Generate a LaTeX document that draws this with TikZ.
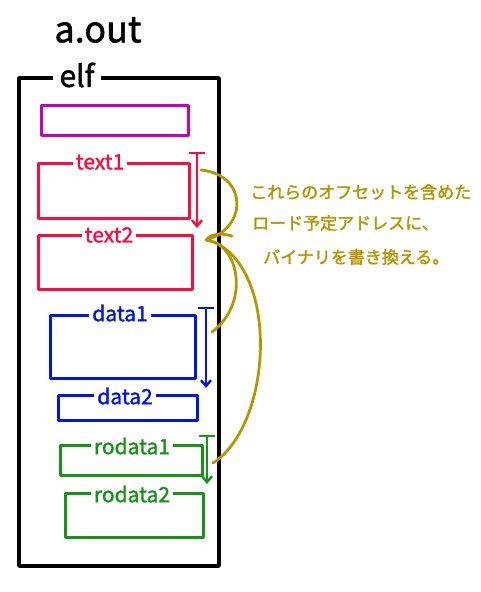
\documentclass[tikz,border=0pt]{standalone}
\usepackage{fontspec}
\setmainfont[FakeBold=1.5]{Noto Sans CJK JP}
\newfontfamily\jpfont[FakeBold=2]{Noto Sans CJK JP}
\usetikzlibrary{arrows.meta}
\definecolor{cmag}{RGB}{200,0,190}
\definecolor{cred}{RGB}{255,10,60}
\definecolor{cblue}{RGB}{0,20,230}
\definecolor{cgreen}{RGB}{20,150,20}
\definecolor{cgold}{RGB}{185,150,0}
\tikzset{
  seg/.style={draw=#1, line width=3pt, inner sep=0pt, outer sep=0pt, anchor=north west},
  lab/.style={fill=white, text=#1, inner sep=1pt, inner xsep=3pt, font=\fontsize{21}{21}\selectfont},
  brk/.style={draw=#1, line width=2.4pt, {Bar[width=16pt]}-{Straight Barb[length=6pt,width=10pt]}},
  link/.style={draw=cgold, line width=2.8pt},
  jp/.style={anchor=west, text=cgold, inner sep=0pt, font=\jpfont\fontsize{17}{17}\selectfont}
}
\begin{document}
\begin{tikzpicture}[x=1pt,y=-1pt, line cap=round, line join=round]
\useasboundingbox[fill=white] (0,0) rectangle (480,592);
% title
\node[inner sep=0pt, font=\fontsize{36}{36}\selectfont] (aout) at (98,30) {a.out};
% outer elf box
\node[seg=black, line width=3.5pt, minimum width=200pt, minimum height=488pt] (elf) at (19,78) {};
\node[lab=black, inner xsep=7pt, font=\fontsize{30}{30}\selectfont] (elflab) at (77,75) {elf};
% sections
\node[seg=cmag, minimum width=147pt, minimum height=30pt] (s0) at (41,105) {};
\node[seg=cred, minimum width=151pt, minimum height=55pt] (t1) at (38,163) {};
\node[lab=cred] (t1l) at (100,162) {text1};
\node[seg=cred, minimum width=154pt, minimum height=54pt] (t2) at (38,235) {};
\node[lab=cred] (t2l) at (109,235) {text2};
\node[seg=cblue, minimum width=145pt, minimum height=63pt] (d1) at (50,315) {};
\node[lab=cblue] (d1l) at (120,313) {data1};
\node[seg=cblue, minimum width=139pt, minimum height=25pt] (d2) at (58,395) {};
\node[lab=cblue] (d2l) at (125,396) {data2};
\node[seg=cgreen, minimum width=142pt, minimum height=30pt] (r1) at (60,445) {};
\node[lab=cgreen] (r1l) at (132,446) {rodata1};
\node[seg=cgreen, minimum width=138pt, minimum height=44pt] (r2) at (65,493) {};
\node[lab=cgreen] (r2l) at (132,494) {rodata2};
% brackets
\coordinate (ra) at (197,152);
\coordinate (rb) at (197,228);
\coordinate (ba) at (206,307);
\coordinate (bb) at (206,388);
\coordinate (ga) at (207,435);
\coordinate (gb) at (207,484);
\draw[brk=cred] (ra) -- (rb);
\draw[brk=cblue] (ba) -- (bb);
\draw[brk=cgreen] (ga) -- (gb);
% gold links
\coordinate (knot) at (206,240);
\coordinate (k2) at (214,242);
\coordinate (fa) at (201,170);
\coordinate (fb) at (212,332);
\coordinate (fc) at (213,463);
\draw[link] (fa) .. controls (248,175) and (248,228) .. (knot);
\draw[link] (knot) .. controls (212,232) and (225,234) .. (232,236);
\draw[link] (fb) .. controls (248,305) and (240,252) .. (k2);
\draw[link] (fc) .. controls (272,425) and (280,272) .. (k2);
\draw[link] (knot) -- (k2);
% annotation
\node[jp] (n1) at (250,192) {これらのオフセットを含めた};
\node[jp] (n2) at (252,223) {ロード予定アドレスに、};
\node[jp] (n3) at (263,257) {バイナリを書き換える。};
\end{tikzpicture}
\end{document}
